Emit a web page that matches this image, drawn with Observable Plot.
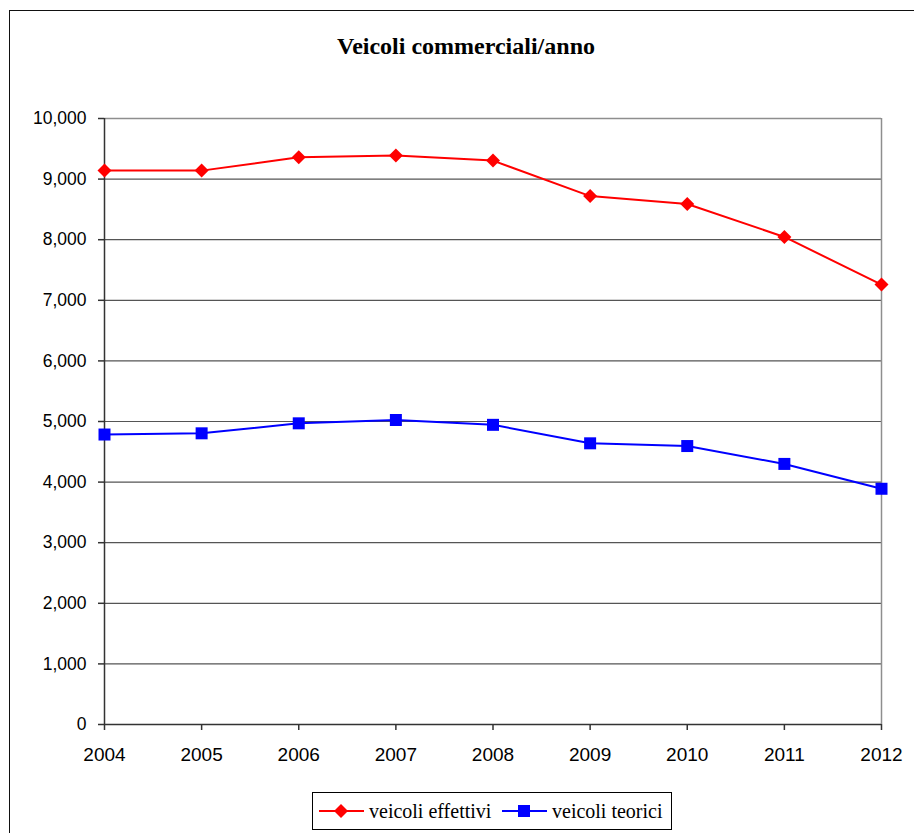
<!DOCTYPE html>
<html>
<head>
<meta charset="utf-8">
<script src="https://cdn.jsdelivr.net/npm/d3@7"></script>
<script src="https://cdn.jsdelivr.net/npm/@observablehq/plot@0.6"></script>
<style>
  body { margin: 0; background: #fff; }
  #wrap { position: relative; width: 914px; height: 833px; overflow: hidden; background: #fff; }
  #border { position: absolute; left: 9px; top: 10px; width: 1200px; height: 1200px;
            border-left: 1.5px solid #111; border-top: 1.5px solid #111; }
  #title { position: absolute; left: 0; width: 932px; top: 33px; text-align: center;
           font: bold 24px "Liberation Serif", "Times New Roman", serif; color: #000; }
  #chart { position: absolute; left: 0; top: 0; }
  #legend { position: absolute; left: 312px; top: 792px; width: 358px; height: 36px;
            border: 1px solid #000; background: #fff;
            font: 20px "Liberation Serif", "Times New Roman", serif; color: #000; }
  #legend .item { position: absolute; top: 0; height: 36px; display: flex; align-items: center; }
  #legend svg { display: block; }
  #legend span { margin-left: 5px; white-space: nowrap; }
</style>
</head>
<body>
<div id="wrap">
  <div id="border"></div>
  <div id="chart"></div>
  <div id="title">Veicoli commerciali/anno</div>
  <div id="legend"></div>
</div>
<script>
// Commercial vehicles per year: actual vs theoretical counts
const years = [2004, 2005, 2006, 2007, 2008, 2009, 2010, 2011, 2012];
const effettivi = [9140, 9140, 9360, 9390, 9305, 8720, 8590, 8045, 7260];
const teorici = [4785, 4805, 4970, 5025, 4945, 4640, 4595, 4300, 3890];
const yTicks = [0, 1000, 2000, 3000, 4000, 5000, 6000, 7000, 8000, 9000, 10000];
const seriesNames = ["veicoli effettivi", "veicoli teorici"];
const seriesColors = ["#ff0000", "#0000ff"];

const rowsEff = years.map((y, i) => ({year: y, value: effettivi[i]}));
const rowsTeo = years.map((y, i) => ({year: y, value: teorici[i]}));

// Marker shapes: a square turned on its corner, and an upright square.
// Plot passes size = r²·π, so h below equals the dot's r.
const rhombus = {
  draw(ctx, size) {
    const h = Math.sqrt(size / Math.PI);
    ctx.moveTo(0, -h); ctx.lineTo(h, 0); ctx.lineTo(0, h); ctx.lineTo(-h, 0); ctx.closePath();
  }
};
const box = {
  draw(ctx, size) {
    const h = Math.sqrt(size / Math.PI);
    ctx.rect(-h, -h, 2 * h, 2 * h);
  }
};

const chart = Plot.plot({
  width: 914,
  height: 833,
  marginLeft: 104,
  marginRight: 33,
  marginTop: 118,
  marginBottom: 109,
  style: {fontFamily: "'Liberation Sans', Arial, sans-serif", fontSize: "17.5px", background: "transparent", color: "#000"},
  x: {domain: [2004, 2012], ticks: years, tickFormat: d3.format("d"), tickSize: 6, tickPadding: 17, label: null},
  y: {domain: [0, 10000], ticks: yTicks, tickFormat: d3.format(","), tickSize: 6, tickPadding: 12, label: null},
  marks: [
    Plot.ruleY(yTicks.filter(v => v > 0 && v < 10000), {stroke: "#555", strokeWidth: 1.2}),
    Plot.ruleY([10000], {stroke: "#8e8e8e", strokeWidth: 1.5}),
    Plot.ruleX([2012], {stroke: "#8e8e8e", strokeWidth: 1.5}),
    Plot.ruleX([2004], {stroke: "#333", strokeWidth: 1.5}),
    Plot.ruleY([0], {stroke: "#333", strokeWidth: 1.5}),
    Plot.line(rowsEff, {x: "year", y: "value", stroke: seriesColors[0], strokeWidth: 2}),
    Plot.line(rowsTeo, {x: "year", y: "value", stroke: seriesColors[1], strokeWidth: 2}),
    Plot.dot(rowsEff, {x: "year", y: "value", symbol: rhombus, r: 7, fill: seriesColors[0], stroke: "none"}),
    Plot.dot(rowsTeo, {x: "year", y: "value", symbol: box, r: 6, fill: seriesColors[1], stroke: "none"})
  ]
});
document.getElementById("chart").appendChild(chart);

// Year labels are set a little larger than the value labels
chart.querySelectorAll("text").forEach(t => {
  if (/^\d{4}$/.test(t.textContent.trim())) t.style.fontSize = "19px";
});
chart.querySelectorAll("g[aria-label='x-axis tick'] path, g[aria-label='y-axis tick'] path").forEach(p => {
  p.setAttribute("stroke", "#333");
  p.setAttribute("stroke-width", "1.5");
});

// Legend
const legend = document.getElementById("legend");
const positions = [6, 189];
seriesNames.forEach((name, i) => {
  const item = document.createElement("div");
  item.className = "item";
  item.style.left = positions[i] + "px";
  const marker = i === 0
    ? `<path d="M22,2 L29,9 L22,16 L15,9 Z" fill="${seriesColors[i]}"/>`
    : `<rect x="16" y="3" width="12" height="12" fill="${seriesColors[i]}"/>`;
  item.innerHTML = `<svg width="45" height="18"><line x1="0" x2="45" y1="9" y2="9" stroke="${seriesColors[i]}" stroke-width="2"/>${marker}</svg><span>${name}</span>`;
  legend.appendChild(item);
});
</script>
</body>
</html>
